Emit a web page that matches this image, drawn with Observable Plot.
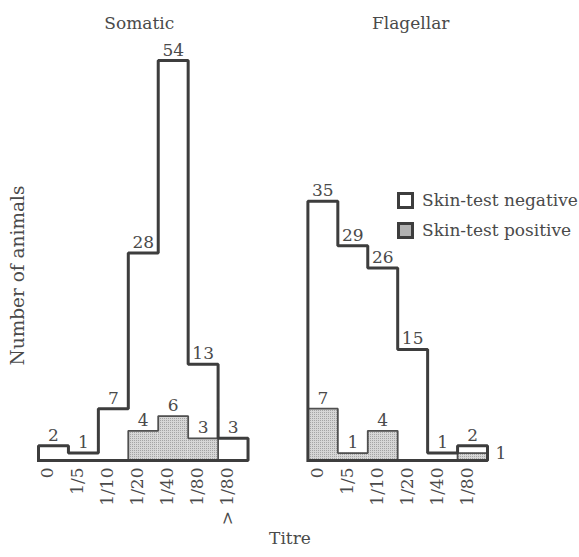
<!DOCTYPE html>
<html>
<head>
<meta charset="utf-8">
<script src="https://cdn.jsdelivr.net/npm/d3@7"></script>
<script src="https://cdn.jsdelivr.net/npm/@observablehq/plot@0.6"></script>
<style>
  html, body { margin: 0; padding: 0; background: #fff; }
  #wrap { position: relative; width: 579px; height: 557px; font-family: "DejaVu Serif", "Liberation Serif", serif; }
  #legend { position: absolute; left: 397px; top: 185px; font-size: 17px; color: #4a4a4a; white-space: nowrap; width: 182px; }
  #legend .row { display: flex; align-items: center; height: 30px; }
  #legend .sw { flex: none; width: 17px; height: 17px; box-sizing: border-box; border: 3px solid #3d3d3d; margin-right: 8px; background: #fff; }
  #legend .sw.pos { background: #c8c8c8; background-image: radial-gradient(#999 0.6px, transparent 0.8px); background-size: 2px 2px; }
</style>
</head>
<body>
<div id="wrap"></div>
<script>
// ---- Data ----
const somaticTitres = ["0", "1/5", "1/10", "1/20", "1/40", "1/80", "> 1/80"];
const somaticNegative = [2, 1, 7, 28, 54, 13, 3];
const somaticPositive = [0, 0, 0, 4, 6, 3, 0];

const flagellarTitres = ["0", "1/5", "1/10", "1/20", "1/40", "1/80"];
const flagellarNegative = [35, 29, 26, 15, 1, 2];
const flagellarPositive = [7, 1, 4, 0, 0, 1];

const panelNames = ["Somatic", "Flagellar"];
const legendLabels = ["Skin-test negative", "Skin-test positive"];
const xLabel = "Titre";
const yLabel = "Number of animals";

// ---- Build tables ----
const groups = [
  {name: panelNames[0], titres: somaticTitres, neg: somaticNegative, pos: somaticPositive, offset: 0},
  {name: panelNames[1], titres: flagellarTitres, neg: flagellarNegative, pos: flagellarPositive, offset: 9}
];

const bars = groups.flatMap(g => g.titres.map((t, i) => ({
  group: g.name, titre: t, x1: g.offset + i, x2: g.offset + i + 1, xm: g.offset + i + 0.5,
  neg: g.neg[i], pos: g.pos[i]
})));

// stepped outline of the negative histogram
const negOutline = groups.flatMap(g => {
  const pts = [{id: g.name, x: g.offset, y: 0}];
  g.neg.forEach((v, i) => { pts.push({id: g.name, x: g.offset + i, y: v}, {id: g.name, x: g.offset + i + 1, y: v}); });
  pts.push({id: g.name, x: g.offset + g.neg.length, y: 0}, {id: g.name, x: g.offset, y: 0});
  return pts;
});

// stepped outlines of the positive runs
const posOutline = [];
groups.forEach(g => {
  let run = null, k = 0;
  g.pos.forEach((v, i) => {
    if (v > 0) {
      if (!run) { run = []; run.id = g.name + (k++); run.push({x: g.offset + i, y: 0}); }
      run.push({x: g.offset + i, y: v}, {x: g.offset + i + 1, y: v});
    }
    if (run && (v === 0 || i === g.pos.length - 1)) {
      const end = v === 0 ? g.offset + i : g.offset + i + 1;
      run.push({x: end, y: 0}, {x: run[0].x, y: 0});
      run.forEach(p => posOutline.push({id: run.id, ...p}));
      run = null;
    }
  });
});

const posLabelsAbove = bars.filter(d => d.pos > 0 && d.neg - d.pos > 1);
const posLabelsBeside = bars.filter(d => d.pos > 0 && d.neg - d.pos <= 1);

const ink = "#3d3d3d";
const textInk = "#4a4a4a";
const fontStack = "'DejaVu Serif', 'Liberation Serif', serif";

const plot = Plot.plot({
  width: 579,
  height: 557,
  marginLeft: 38,
  marginRight: 92,
  marginTop: 60,
  marginBottom: 97,
  x: {domain: [0, 15], axis: null},
  y: {domain: [0, 54], axis: null},
  style: {fontFamily: fontStack, fontSize: "17px", color: textInk, background: "#fff"},
  marks: [
    Plot.rectY(bars.filter(d => d.pos > 0), {x1: "x1", x2: "x2", y: "pos", fill: "url(#stip)"}),
    Plot.line(posOutline, {x: "x", y: "y", z: "id", stroke: "#505050", strokeWidth: 1.8, strokeLinejoin: "miter"}),
    Plot.line(negOutline, {x: "x", y: "y", z: "id", stroke: ink, strokeWidth: 3, strokeLinejoin: "miter", strokeLinecap: "square"}),
    // value labels
    Plot.text(bars, {x: "xm", y: "neg", text: d => String(d.neg), dy: -5, lineAnchor: "bottom", fill: textInk}),
    Plot.text(posLabelsAbove, {x: "xm", y: "pos", text: d => String(d.pos), dy: -5, lineAnchor: "bottom", fill: textInk}),
    Plot.text(posLabelsBeside, {x: "x2", y: "pos", text: d => String(d.pos), dx: 8, textAnchor: "start", lineAnchor: "middle", fill: textInk}),
    // tick labels
    Plot.text(bars, {x: "xm", frameAnchor: "bottom", text: "titre", rotate: -90, textAnchor: "end", dy: 7, fill: textInk}),
    // panel titles
    Plot.text([groups[0]], {x: g => g.offset + g.titres.length / 2, frameAnchor: "top", text: "name", dy: -44, dx: -4, fill: textInk}),
    Plot.text([groups[1]], {x: g => g.offset + g.titres.length / 2, frameAnchor: "top", text: "name", dy: -44, dx: 13, fill: textInk}),
    // axis titles
    Plot.text([xLabel], {x: groups[1].offset - 1, frameAnchor: "bottom", text: d => d, dy: 83, dx: 12, fill: textInk}),
    Plot.text([yLabel], {frameAnchor: "left", text: d => d, rotate: -90, textAnchor: "middle", dx: -20, dy: 15, fill: textInk, fontSize: 18.5})
  ]
});

// stipple pattern for the positive bars
const ns = "http://www.w3.org/2000/svg";
const defs = document.createElementNS(ns, "defs");
defs.innerHTML = '<pattern id="stip" width="2" height="2" patternUnits="userSpaceOnUse">' +
  '<rect width="2" height="2" fill="#d6d6d6"></rect><rect width="1" height="1" fill="#a4a4a4"></rect></pattern>';
plot.insertBefore(defs, plot.firstChild);

const wrap = document.getElementById("wrap");
wrap.appendChild(plot);

const legend = document.createElement("div");
legend.id = "legend";
legendLabels.forEach((lab, i) => {
  const row = document.createElement("div");
  row.className = "row";
  const sw = document.createElement("span");
  sw.className = "sw" + (i === 1 ? " pos" : "");
  const tx = document.createElement("span");
  tx.textContent = lab;
  row.appendChild(sw);
  row.appendChild(tx);
  legend.appendChild(row);
});
wrap.appendChild(legend);
</script>
</body>
</html>
